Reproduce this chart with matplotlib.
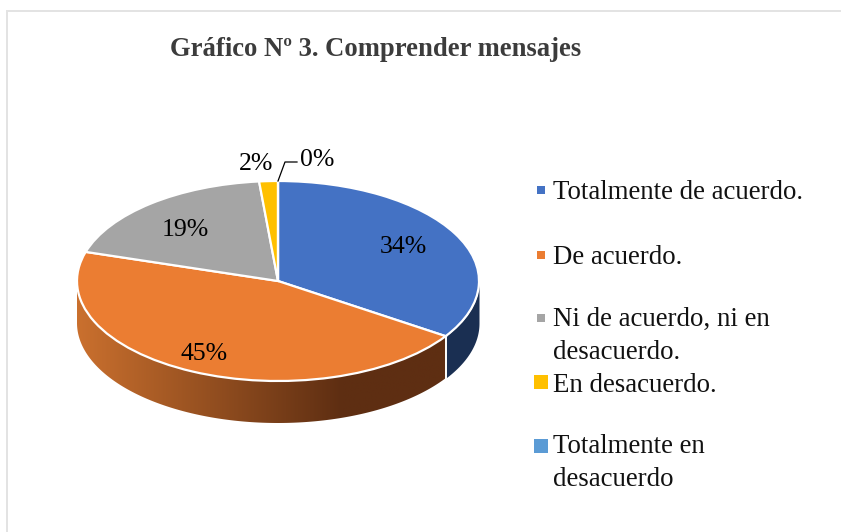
import numpy as np
import matplotlib
matplotlib.use('Agg')
import matplotlib.pyplot as plt
from matplotlib.colors import LinearSegmentedColormap
from matplotlib.patches import Polygon, Rectangle

plt.rcParams['font.family'] = ['Liberation Serif', 'DejaVu Serif']

title = 'Gráfico Nº 3. Comprender mensajes'
categories = ['Totalmente de acuerdo.', 'De acuerdo.', 'Ni de acuerdo, ni en\ndesacuerdo.',
              'En desacuerdo.', 'Totalmente en\ndesacuerdo']
values = [34.3, 45.4, 18.8, 1.5, 0.0]
pct_labels = ['34%', '45%', '19%', '2%', '0%']
colors = ['#4472C4', '#EB7D32', '#A5A5A5', '#FFC000', '#5B9BD5']

W, H = 841, 532
cx, cy, rx, ry, depth = 278, 281, 201, 100, 42

fig = plt.figure(figsize=(W / 100, H / 100), dpi=100)

# pie axes: squashed so the unit circle becomes the top ellipse
d = depth / ry
ax = fig.add_axes([(cx - rx) / W, 1 - (cy + ry + depth) / H, 2 * rx / W, (2 * ry + depth) / H])
wedges, _ = ax.pie(values, colors=colors, startangle=90, counterclock=False, radius=1,
                   wedgeprops={'edgecolor': 'white', 'linewidth': 1.6, 'zorder': 5})
for w in wedges:
    w.set_clip_on(False)

# side wall
edges = 90 - np.cumsum([0] + values) * 3.6
blue_end = np.radians(edges[1])
th = np.linspace(0, blue_end, 40)
ax.fill_between(np.cos(th), np.sin(th) - d, np.sin(th), color='#1A2F52', lw=0, zorder=1)

th = np.linspace(-np.pi, blue_end, 200)
wall = np.vstack([np.column_stack([np.cos(th), np.sin(th) - d]),
                  np.column_stack([np.cos(th[::-1]), np.sin(th[::-1])])])
orange_wall = LinearSegmentedColormap.from_list('wall', [(0, '#CA702E'), (0.66, '#5E2E12'), (1, '#5E2E12')], N=256)
grad = ax.imshow(np.linspace(0, 1, 256)[None, :], extent=(-1, 1, -1 - d, 1), cmap=orange_wall,
                 aspect='auto', zorder=1)
clip = Polygon(wall, transform=ax.transData, fc='none', ec='none')
ax.add_patch(clip)
grad.set_clip_path(clip)
ax.plot([np.cos(blue_end)] * 2, [np.sin(blue_end) - d, np.sin(blue_end)], color='white', lw=1.4, zorder=2)

ax.set_aspect('auto')
ax.set_xlim(-1, 1)
ax.set_ylim(-1 - d, 1)

# full figure axes in pixel coords for frame, texts, legend
bg = fig.add_axes([0, 0, 1, 1], zorder=10)
bg.set_xlim(0, W)
bg.set_ylim(H, 0)
bg.axis('off')

# frame
bg.plot([7, 7], [H, 11], color='#E3E3E3', lw=1.4)
bg.plot([7, W - 1], [11, 11], color='#E3E3E3', lw=1.4)

bg.text(376, 55.5, title, fontsize=19.2, fontweight='bold', color='#3C3C3C', ha='center', va='baseline')

# percent labels
label_pos = [(403, 247), (204, 354), (185, 230), (256, 164), (317, 160)]
for (x, y), s in zip(label_pos, pct_labels):
    bg.text(x, y, s, fontsize=18.5, color='black', ha='center', va='center')
bg.plot([278, 285, 297], [181, 162, 162], color='black', lw=0.9)

# legend
legend_y = [190, 255, 318, 382, 446]
legend_base = [199, 264, 359, 392, 486]
sizes = [8, 8, 8, 14, 14]
for c, lab, ym, yt, s in zip(colors, categories, legend_y, legend_base, sizes):
    bg.add_patch(Rectangle((541 - s / 2, ym - s / 2), s, s, color=c, lw=0))
    bg.text(553, yt, lab, fontsize=19.4, color='#111111', ha='left', va='baseline', linespacing=1.41)

fig.savefig('out.png', dpi=100)
